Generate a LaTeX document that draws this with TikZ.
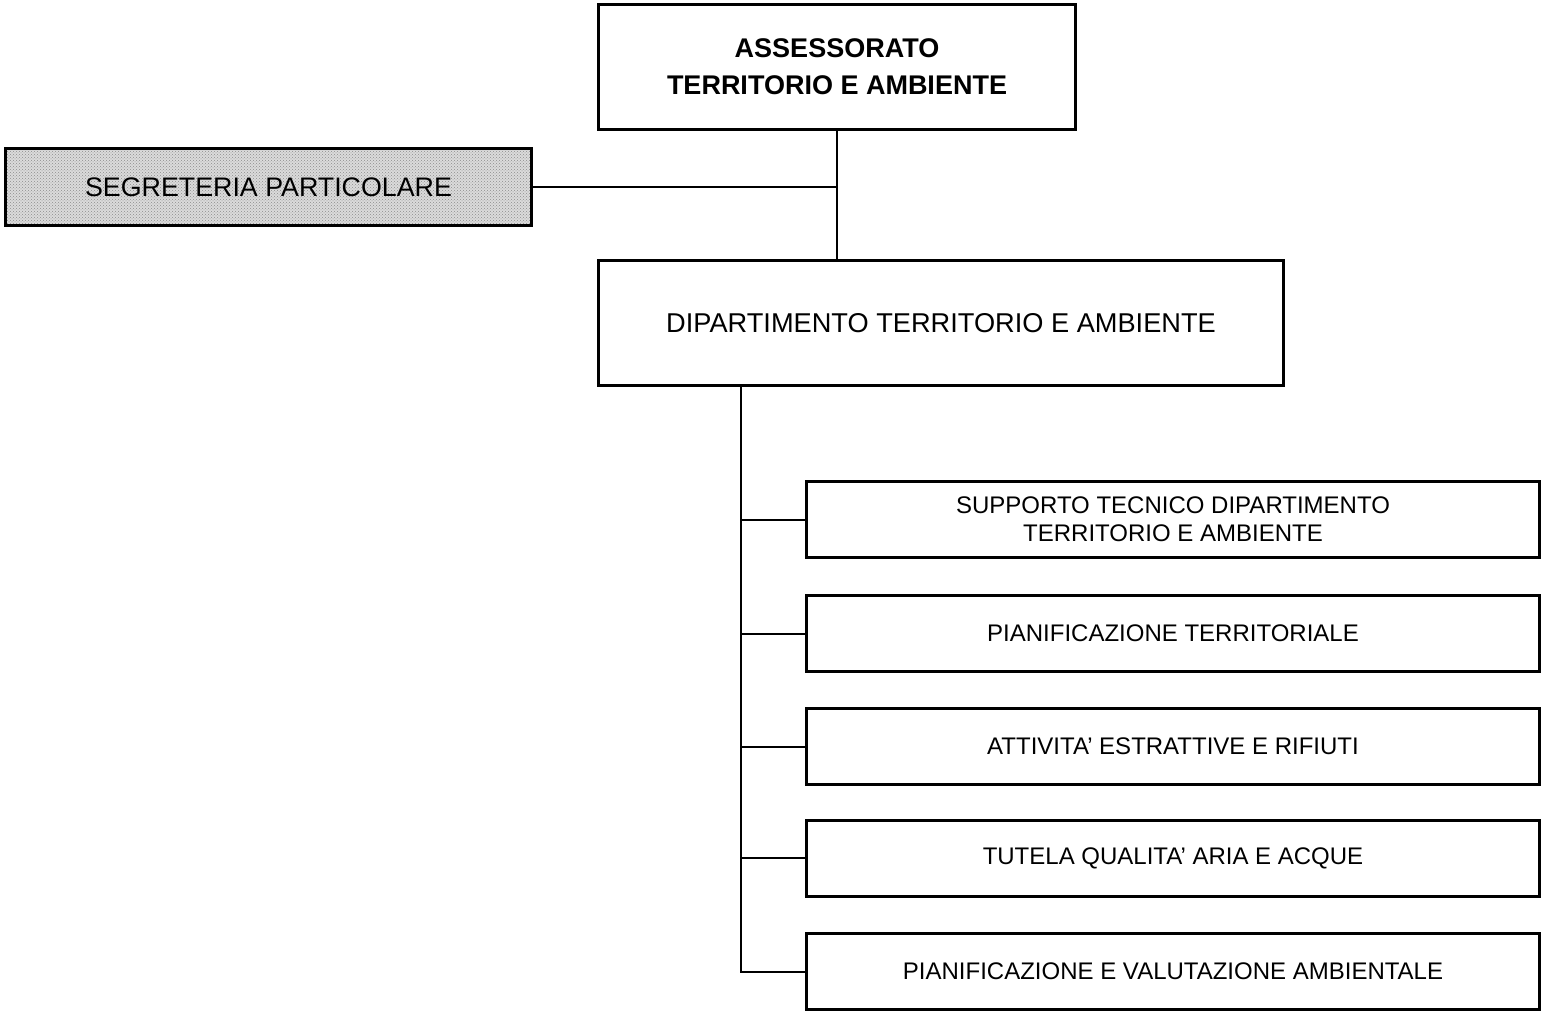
\documentclass[tikz,border=0pt]{standalone}
\usepackage{fontspec}
\setmainfont{Liberation Sans}
\usetikzlibrary{patterns}
\begin{document}
\begin{tikzpicture}[x=1pt,y=-1pt,
  box/.style={draw=black, line width=3pt, fill=white, align=center, inner sep=0pt},
  mainbox/.style={box, font=\fontsize{27.2}{36}\selectfont},
  subbox/.style={box, minimum width=733pt, minimum height=76pt, font=\fontsize{24}{28}\selectfont},
  link/.style={draw=black, line width=2pt}
]
\useasboundingbox (0,0) rectangle (1544,1017);

\node[mainbox, minimum width=477pt, minimum height=125pt, font=\fontsize{27}{37}\selectfont\bfseries] (top) at (837,67)
  {ASSESSORATO\\TERRITORIO E AMBIENTE};
\node[mainbox, minimum width=526pt, minimum height=77pt, font=\fontsize{26.8}{36}\selectfont,
  preaction={fill=black!14}, fill=none, pattern=crosshatch dots, pattern color=black!45] (seg) at (268.5,187)
  {SEGRETERIA PARTICOLARE};
\node[mainbox, minimum width=685pt, minimum height=125pt] (dept) at (941,323)
  {DIPARTIMENTO TERRITORIO E AMBIENTE};

\node[subbox] (s1) at (1173,519.5) {SUPPORTO TECNICO DIPARTIMENTO\\TERRITORIO E AMBIENTE};
\node[subbox] (s2) at (1173,633.5) {PIANIFICAZIONE TERRITORIALE};
\node[subbox] (s3) at (1173,746.5) {ATTIVITA’ ESTRATTIVE E RIFIUTI};
\node[subbox] (s4) at (1173,858) {TUTELA QUALITA’ ARIA E ACQUE};
\node[subbox] (s5) at (1173,971.5) {PIANIFICAZIONE E VALUTAZIONE AMBIENTALE};

\draw[link] (top.south) -- (top.south |- dept.north);
\draw[link] (seg.east) -- (seg.east -| top.south);

\coordinate (trunk) at (741,387);
\draw[link] (trunk) -- (trunk |- s5.west) -- (s5.west);
\foreach \s in {s1,s2,s3,s4}
  \draw[link] (trunk |- \s.west) -- (\s.west);
\end{tikzpicture}
\end{document}
